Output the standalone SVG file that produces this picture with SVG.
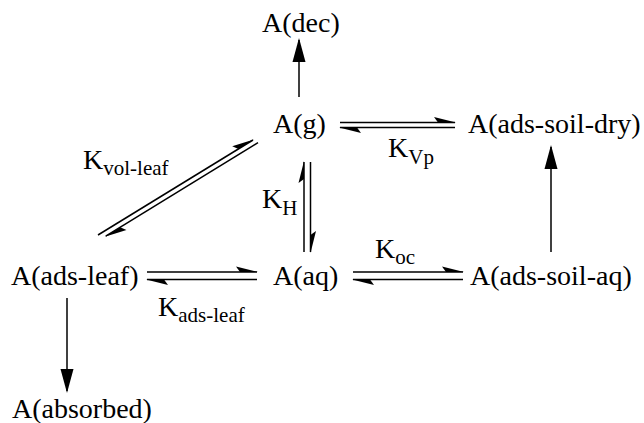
<svg xmlns="http://www.w3.org/2000/svg" width="644" height="423" viewBox="0 0 644 423" font-family="'Liberation Serif', 'Times New Roman', Times, serif">
<defs>
<style>
text{font-family:'Liberation Serif','Times New Roman',Times,serif}
.t{font-size:28px;fill:#000}
.s{font-size:21px}
.c{stroke:#000;stroke-width:1.5;fill:none}
.h{marker-end:url(#half)}
.f{marker-end:url(#full)}
</style>
<marker id="half" markerUnits="userSpaceOnUse" orient="auto" overflow="visible" refX="0" refY="0" markerWidth="30" markerHeight="30">
<path d="M1,0 L-21,-5.5 L-17,0 Z" fill="#000"/>
</marker>
<marker id="full" markerUnits="userSpaceOnUse" orient="auto" overflow="visible" refX="0" refY="0" markerWidth="30" markerHeight="30">
<path d="M2,0 L-22,-6.5 L-22,6.5 Z" fill="#000"/>
</marker>
</defs>
<rect width="644" height="423" fill="#fff"/>
<g id="connectors">
<path class="c f" d="M299,97 V40"/>
<path class="c h" d="M340,122.5 H455"/>
<path class="c h" d="M455,127.5 H340"/>
<path class="c h" d="M304,252 V162"/>
<path class="c h" d="M310.5,162 V252"/>
<path class="c h" d="M98,235 L253,140"/>
<path class="c h" d="M258,142.7 L105.7,236.2"/>
<path class="c h" d="M147,272 H257"/>
<path class="c h" d="M257,279.5 H147"/>
<path class="c h" d="M353,272 H463"/>
<path class="c h" d="M463,279.5 H353"/>
<path class="c f" d="M551,252 V147"/>
<path class="c f" d="M67,298 V391"/>
</g>
<g id="dec"><text class="t" x="262" y="32">A(dec)</text></g>
<g id="g"><text class="t" x="273" y="133">A(g)</text></g>
<g id="soil-dry"><text class="t" x="468" y="133">A(ads-soil-dry)</text></g>
<g id="leaf"><text class="t" x="11" y="285">A(ads-leaf)</text></g>
<g id="aq"><text class="t" x="273" y="285">A(aq)</text></g>
<g id="soil-aq"><text class="t" x="470" y="285">A(ads-soil-aq)</text></g>
<g id="absorbed"><text class="t" x="12" y="418">A(absorbed)</text></g>
<g id="labels">
<text class="t" x="83" y="169">K<tspan class="s" dy="6">vol-leaf</tspan></text>
<text class="t" x="262" y="208">K<tspan class="s" dy="7">H</tspan></text>
<text class="t" x="388" y="157">K<tspan class="s" dy="7">Vp</tspan></text>
<text class="t" x="375" y="258">K<tspan class="s" dy="6">oc</tspan></text>
<text class="t" x="158" y="316">K<tspan class="s" dy="6">ads-leaf</tspan></text>
</g>
</svg>
